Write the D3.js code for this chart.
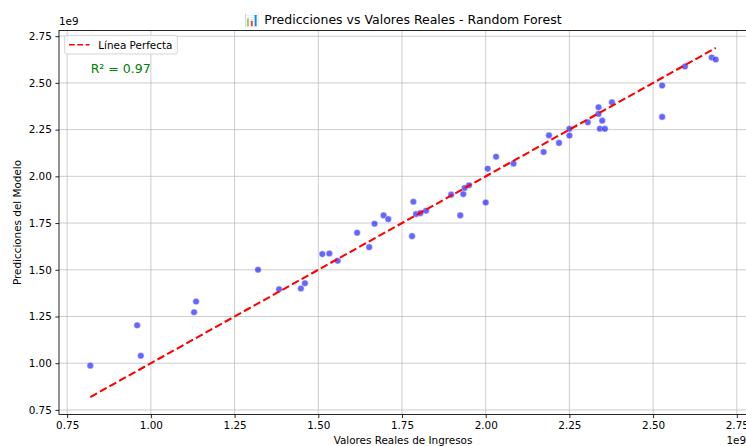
<!DOCTYPE html>
<html>
<head>
<meta charset="utf-8">
<script src="https://cdn.jsdelivr.net/npm/d3@7"></script>
<style>
  html, body { margin: 0; padding: 0; background: #fff; }
  svg { display: block; font-family: "DejaVu Sans", sans-serif; }
</style>
</head>
<body>
<svg id="chart" width="746" height="446"></svg>
<script>
// Actual revenue values (x) and Random Forest predictions (y)
const actual = [
  0.819e9, 0.959e9, 0.970e9, 1.129e9, 1.135e9, 1.320e9, 1.383e9,
  1.448e9, 1.460e9, 1.512e9, 1.533e9, 1.558e9, 1.616e9, 1.652e9, 1.668e9,
  1.695e9, 1.709e9, 1.780e9, 1.784e9, 1.792e9, 1.805e9, 1.822e9, 1.897e9,
  1.924e9, 1.933e9, 1.937e9, 1.950e9, 2.000e9, 2.006e9, 2.031e9, 2.083e9,
  2.173e9, 2.189e9, 2.219e9, 2.250e9, 2.250e9, 2.305e9, 2.337e9, 2.337e9,
  2.348e9, 2.341e9, 2.356e9, 2.377e9, 2.527e9, 2.527e9, 2.595e9, 2.675e9, 2.687e9
];
const predicted = [
  0.987e9, 1.203e9, 1.040e9, 1.273e9, 1.330e9, 1.500e9, 1.396e9,
  1.400e9, 1.428e9, 1.584e9, 1.587e9, 1.548e9, 1.698e9, 1.621e9, 1.746e9,
  1.791e9, 1.771e9, 1.680e9, 1.864e9, 1.798e9, 1.803e9, 1.816e9, 1.902e9,
  1.791e9, 1.905e9, 1.938e9, 1.952e9, 1.860e9, 2.041e9, 2.105e9, 2.068e9,
  2.130e9, 2.219e9, 2.179e9, 2.254e9, 2.218e9, 2.289e9, 2.370e9, 2.334e9,
  2.298e9, 2.255e9, 2.254e9, 2.396e9, 2.486e9, 2.318e9, 2.588e9, 2.636e9, 2.625e9
];
const tickValues = [0.75e9, 1.00e9, 1.25e9, 1.50e9, 1.75e9, 2.00e9, 2.25e9, 2.50e9, 2.75e9];
const r2Label = "R² = 0.97";
const titleText = "📊 Predicciones vs Valores Reales - Random Forest";
const xLabel = "Valores Reales de Ingresos";
const yLabel = "Predicciones del Modelo";
const legendLabel = "Línea Perfecta";

const svg = d3.select("#chart");
const plot = { left: 59, right: 747, top: 30.5, bottom: 414.5 };
const pw = plot.right - plot.left, ph = plot.bottom - plot.top;

// Diagonal reference spans the range of actual values
const lo = d3.min(actual), hi = d3.max(actual);
const allY = predicted.concat([lo, hi]);
const pad = (a, b) => { const m = (b - a) * 0.05; return [a - m, b + m]; };
const xDom = pad(Math.min(lo, d3.min(actual)), Math.max(hi, d3.max(actual)));
const yDom = pad(d3.min(allY), d3.max(allY));

const x = d3.scaleLinear().domain(xDom).range([plot.left, plot.right]);
const y = d3.scaleLinear().domain(yDom).range([plot.bottom, plot.top]);
const fmt = v => d3.format(".2f")(v / 1e9);

const defs = svg.append("defs");
defs.append("clipPath").attr("id", "clip")
  .append("rect").attr("x", plot.left).attr("y", plot.top).attr("width", pw).attr("height", ph);

// Grid
const grid = svg.append("g").attr("clip-path", "url(#clip)")
  .attr("stroke", "#b0b0b0").attr("stroke-width", 0.85).attr("stroke-opacity", 0.75);
grid.selectAll("line.gx").data(tickValues).join("line")
  .attr("x1", d => x(d)).attr("x2", d => x(d)).attr("y1", plot.top).attr("y2", plot.bottom);
grid.selectAll("line.gy").data(tickValues).join("line")
  .attr("y1", d => y(d)).attr("y2", d => y(d)).attr("x1", plot.left).attr("x2", plot.right);

// Points
const pts = actual.map((a, i) => ({ a, p: predicted[i] }));
svg.append("g").attr("clip-path", "url(#clip)")
  .selectAll("circle").data(pts).join("circle")
  .attr("cx", d => x(d.a)).attr("cy", d => y(d.p)).attr("r", 3.3)
  .attr("fill", "rgb(0,0,255)").attr("fill-opacity", 0.6)
  .attr("stroke", "#fff").attr("stroke-opacity", 0.6).attr("stroke-width", 0.8);

// Perfect-prediction line
svg.append("line")
  .attr("x1", x(lo)).attr("y1", y(lo)).attr("x2", x(hi)).attr("y2", y(hi))
  .attr("stroke", "red").attr("stroke-width", 2.08).attr("stroke-dasharray", "7.7,3.3");

// Axes
const xAxis = d3.axisBottom(x).tickValues(tickValues).tickFormat(fmt).tickSize(3.6).tickPadding(3.6);
const yAxis = d3.axisLeft(y).tickValues(tickValues).tickFormat(fmt).tickSize(3.6).tickPadding(3.6);
const gx = svg.append("g").attr("transform", `translate(0,${plot.bottom})`).call(xAxis);
const gy = svg.append("g").attr("transform", `translate(${plot.left},0)`).call(yAxis);
[gx, gy].forEach(g => {
  g.select(".domain").remove();
  g.selectAll(".tick line").attr("stroke", "#000").attr("stroke-width", 0.85);
  g.selectAll(".tick text").attr("fill", "#000").attr("font-size", 10.4)
    .attr("font-family", "DejaVu Sans, sans-serif");
});

// Spines
svg.append("rect").attr("x", plot.left).attr("y", plot.top).attr("width", pw).attr("height", ph)
  .attr("fill", "none").attr("stroke", "#000").attr("stroke-width", 0.85);

// Offset labels
svg.append("text").attr("x", plot.left).attr("y", plot.top - 6).attr("font-size", 10.4).text("1e9");
svg.append("text").attr("x", 746).attr("y", 444).attr("text-anchor", "end").attr("font-size", 10.4).text("1e9");

// Axis labels and title
svg.append("text").attr("x", (plot.left + plot.right) / 2).attr("y", 444)
  .attr("text-anchor", "middle").attr("font-size", 10.4).text(xLabel);
svg.append("text").attr("transform", `translate(21,${(plot.top + plot.bottom) / 2}) rotate(-90)`)
  .attr("text-anchor", "middle").attr("font-size", 10.4).text(yLabel);
svg.append("text").attr("x", (plot.left + plot.right) / 2).attr("y", plot.top - 7)
  .attr("text-anchor", "middle").attr("font-size", 12.5).text(titleText);

// Legend
const lg = svg.append("g");
lg.append("rect").attr("x", 64.7).attr("y", 35.3).attr("width", 112.6).attr("height", 18.7)
  .attr("rx", 2).attr("fill", "#fff").attr("fill-opacity", 0.8)
  .attr("stroke", "#cccccc").attr("stroke-width", 0.85);
lg.append("line").attr("x1", 69).attr("x2", 89.5).attr("y1", 44.7).attr("y2", 44.7)
  .attr("stroke", "red").attr("stroke-width", 1.56).attr("stroke-dasharray", "5.8,2.5");
lg.append("text").attr("x", 98.3).attr("y", 48.5).attr("font-size", 10.4).text(legendLabel);

// Score annotation
svg.append("text").attr("x", plot.left + 0.046 * pw).attr("y", 72.5)
  .attr("font-size", 12.5).attr("fill", "green").text(r2Label);
</script>
</body>
</html>
